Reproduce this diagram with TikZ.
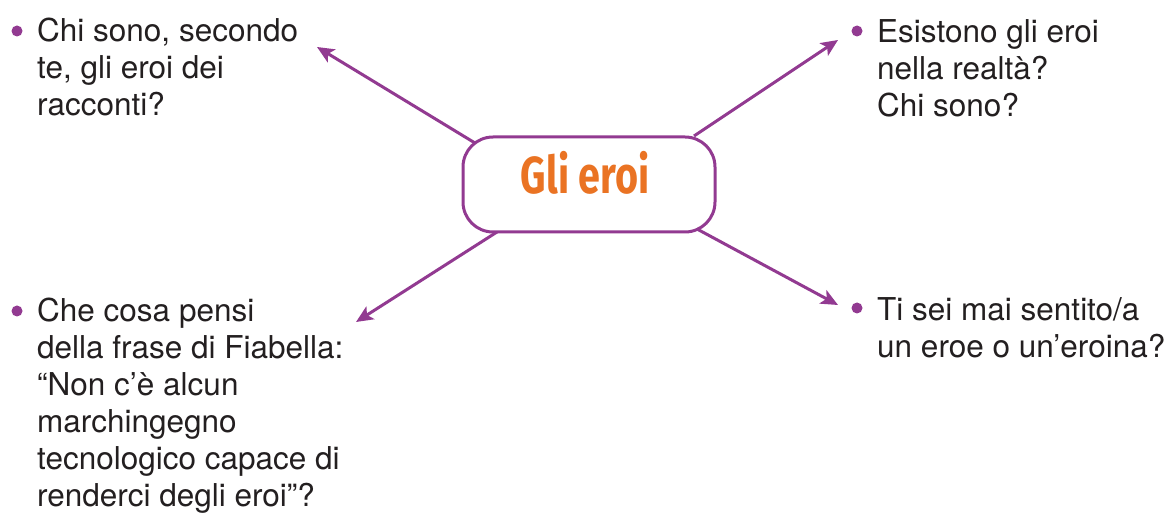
\documentclass[tikz,border=0pt]{standalone}
\usepackage{fontspec}
\setmainfont{TeX Gyre Heros}
\newfontfamily\titlefont{Fira Sans}
\usetikzlibrary{arrows.meta}
\definecolor{mapurple}{RGB}{146,58,145}
\definecolor{maorange}{RGB}{234,115,35}
\definecolor{matext}{RGB}{35,31,32}
\tikzset{
  question/.style={anchor=base west, inner sep=0pt, text=matext,
    font=\fontsize{31.5}{37}\selectfont},
  dotmark/.style={circle, fill=mapurple, inner sep=0pt, minimum size=11pt},
  link/.style={draw=mapurple, line width=3pt,
    -{Stealth[length=17pt, width=15pt, inset=4pt]}},
  topic/.style={draw=mapurple, line width=3pt, rounded corners=30pt, fill=white,
    minimum width=252pt, minimum height=95pt, inner sep=0pt}
}
\begin{document}
\begin{tikzpicture}[x=1pt, y=-1pt]
\useasboundingbox (0,0) rectangle (1171,513);
% connectors
\coordinate (s1) at (475,143);
\coordinate (e1) at (317,47);
\coordinate (s2) at (694,136);
\coordinate (e2) at (838,40);
\coordinate (s3) at (497,232);
\coordinate (e3) at (356,322);
\coordinate (s4) at (697,229);
\coordinate (e4) at (838,305);
\draw[link] (s1) -- (e1);
\draw[link] (s2) -- (e2);
\draw[link] (s3) -- (e3);
\draw[link] (s4) -- (e4);
% central topic
\node[topic] (c) at (589,184.5) {};
\node[text=maorange, inner sep=0pt, anchor=base] (title) at (585,194)
  {\scalebox{0.76}[1]{\titlefont\bfseries\fontsize{52}{52}\selectfont Gli eroi}};
% questions
\node[dotmark] (b1) at (17,31) {};
\node[question] (q1) at (37,42) {\begin{tabular}[t]{@{}l@{}}Chi sono, secondo\\ te, gli eroi dei\\ racconti?\end{tabular}};
\node[dotmark] (b2) at (857,31) {};
\node[question] (q2) at (877,43) {\begin{tabular}[t]{@{}l@{}}Esistono gli eroi\\ nella realtà?\\ Chi sono?\end{tabular}};
\node[dotmark] (b3) at (17,311) {};
\node[question] (q3) at (37,322) {\begin{tabular}[t]{@{}l@{}}Che cosa pensi\\ della frase di Fiabella:\\ “Non c’è alcun\\ marchingegno\\ tecnologico capace di\\ renderci degli eroi”?\end{tabular}};
\node[dotmark] (b4) at (857,308) {};
\node[question] (q4) at (877,320) {\begin{tabular}[t]{@{}l@{}}Ti sei mai sentito/a\\ un eroe o un’eroina?\end{tabular}};
\end{tikzpicture}
\end{document}
